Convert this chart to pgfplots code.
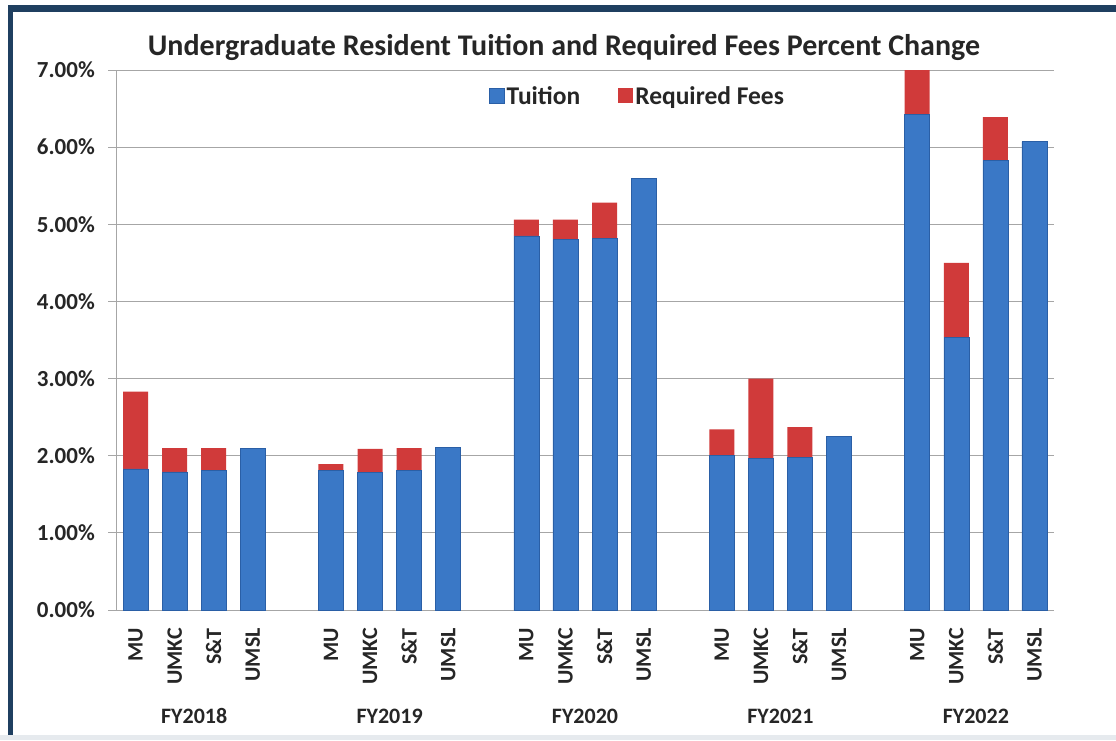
\documentclass[border=0pt]{standalone}
\usepackage{pgfplots}
\pgfplotsset{compat=1.18}
\usepackage{fontspec}
\setmainfont{Carlito}
\definecolor{frameblue}{HTML}{1F3F60}
\definecolor{bottomgrey}{HTML}{E6EAEE}
\definecolor{txt}{HTML}{262626}
\definecolor{gridc}{HTML}{A6A6A6}
\definecolor{tuiL}{HTML}{2A5FA6}
\definecolor{tuiM}{HTML}{3A78C6}
\definecolor{feeL}{HTML}{A82828}
\definecolor{feeM}{HTML}{D03A3A}
\begin{document}
\begin{tikzpicture}[x=1pt,y=1pt]
\path[use as bounding box] (0,0) rectangle (1116,740);
\fill[white] (0,0) rectangle (1116,740);
\fill[bottomgrey] (0,0) rectangle (1116,5);
\fill[frameblue] (8,5) rectangle (13,735);
\fill[frameblue] (8,728) rectangle (1116,735);
\node[font=\bfseries\fontsize{30}{34}\selectfont, text=txt] at (564,693) {Undergraduate Resident Tuition and Required Fees Percent Change};
\begin{axis}[
  at={(116pt,130pt)}, anchor=south west,
  scale only axis, width=938pt, height=540pt,
  ybar stacked, bar width=25pt,
  xmin=-0.5, xmax=23.5, ymin=0, ymax=7,
  axis x line*=bottom,
  x axis line style={draw=none},
  axis y line*=left,
  y axis line style={gridc, line width=1pt},
  ymajorgrids, grid style={gridc, line width=1pt},
  ytick={0,1,...,7},
  ytick style={gridc, line width=1pt},
  xtick style={draw=none},
  tick align=outside, major tick length=8pt,
  /pgf/number format/assume math mode=true,
  yticklabel={\pgfmathprintnumber[fixed,fixed zerofill,precision=2]{\tick}\%},
  yticklabel style={font=\bfseries\fontsize{23}{27}\selectfont, text=txt, inner sep=0pt, xshift=-13pt},
  xtick={0,1,2,3,5,6,7,8,10,11,12,13,15,16,17,18,20,21,22,23},
  xticklabels={MU,UMKC,S\&T,UMSL,MU,UMKC,S\&T,UMSL,MU,UMKC,S\&T,UMSL,MU,UMKC,S\&T,UMSL,MU,UMKC,S\&T,UMSL},
  xticklabel style={yshift=-10pt, rotate=90, anchor=east, inner sep=0pt, font=\bfseries\fontsize{22}{26}\selectfont, text=txt},
  clip=false,
  legend columns=2,
  legend style={at={(0.556,0.952)}, anchor=center, draw=none, fill=none,
    font=\bfseries\fontsize{25.5}{29}\selectfont, text=txt,
    /tikz/every even column/.append style={column sep=36pt}},
  legend image code/.code={\fill[#1] (-9pt,-7pt) rectangle (6pt,8pt);},
]
\addplot[draw=tuiL, line width=0.6pt, fill=tuiM] coordinates {
(0,1.83) (1,1.79) (2,1.81) (3,2.10)
(5,1.81) (6,1.78) (7,1.81) (8,2.11)
(10,4.85) (11,4.80) (12,4.82) (13,5.60)
(15,2.00) (16,1.97) (17,1.98) (18,2.25)
(20,6.42) (21,3.53) (22,5.83) (23,6.07)};
\addplot[draw=none, fill=feeM] coordinates {
(0,1.00) (1,0.31) (2,0.29) (3,0)
(5,0.08) (6,0.31) (7,0.29) (8,0)
(10,0.21) (11,0.26) (12,0.46) (13,0)
(15,0.34) (16,1.03) (17,0.39) (18,0)
(20,0.58) (21,0.97) (22,0.56) (23,0)};
\legend{Tuition,Required Fees}
\node[font=\bfseries\fontsize{22}{26}\selectfont, text=txt] at ([yshift=-106pt]axis cs:1.5,0) {FY2018};
\node[font=\bfseries\fontsize{22}{26}\selectfont, text=txt] at ([yshift=-106pt]axis cs:6.5,0) {FY2019};
\node[font=\bfseries\fontsize{22}{26}\selectfont, text=txt] at ([yshift=-106pt]axis cs:11.5,0) {FY2020};
\node[font=\bfseries\fontsize{22}{26}\selectfont, text=txt] at ([yshift=-106pt]axis cs:16.5,0) {FY2021};
\node[font=\bfseries\fontsize{22}{26}\selectfont, text=txt] at ([yshift=-106pt]axis cs:21.5,0) {FY2022};
\end{axis}
\end{tikzpicture}
\end{document}
